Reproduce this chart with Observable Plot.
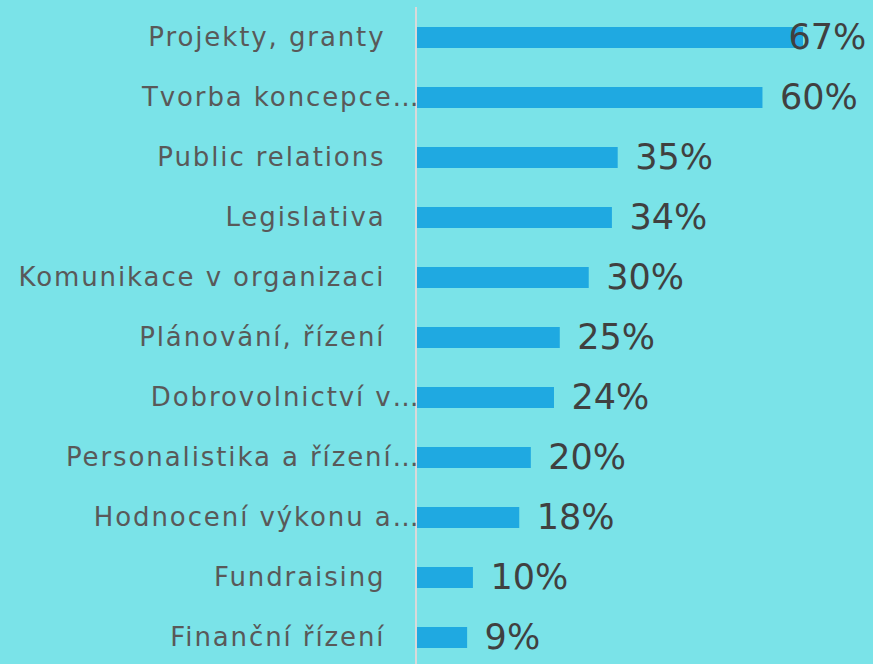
<!DOCTYPE html>
<html>
<head>
<meta charset="utf-8">
<script src="https://cdn.jsdelivr.net/npm/d3@7"></script>
<script src="https://cdn.jsdelivr.net/npm/@observablehq/plot@0.6"></script>
<style>
  html, body { margin: 0; padding: 0; background: #7AE3E8; }
  #chart svg { display: block; background: #7AE3E8; }
  .cat text { letter-spacing: 1.9px; }
</style>
</head>
<body>
<div id="chart"></div>
<script>
const categories = [
  "Projekty, granty",
  "Tvorba koncepce…",
  "Public relations",
  "Legislativa",
  "Komunikace v organizaci",
  "Plánování, řízení",
  "Dobrovolnictví v…",
  "Personalistika a řízení…",
  "Hodnocení výkonu a…",
  "Fundraising",
  "Finanční řízení"
];
const values = [67, 60, 35, 34, 30, 25, 24, 20, 18, 10, 9];
const valueLabels = ["67%", "60%", "35%", "34%", "30%", "25%", "24%", "20%", "18%", "10%", "9%"];

const data = categories.map((c, i) => ({category: c, value: values[i], label: valueLabels[i]}));
const truncated = d => d.category.endsWith("…");
const fits = d => d.value < 62;

const labelFont = {fontFamily: "DejaVu Sans", fontSize: 26, fill: "#595959", className: "cat"};
const valueFont = {fontFamily: "DejaVu Sans", fontSize: 35, fill: "#404040"};

const chart = Plot.plot({
  width: 873,
  height: 664,
  marginTop: 7,
  marginBottom: 0,
  marginLeft: 415,
  marginRight: 0,
  style: {background: "#7AE3E8", overflow: "visible"},
  x: {domain: [0, 67], range: [415, 803], axis: null},
  y: {domain: categories, range: [7.5, 667.5], paddingInner: 0.65, paddingOuter: 0.325, axis: null},
  marks: [
    Plot.barX(data, {y: "category", x: "value", fill: "#1FA9E1"}),
    Plot.ruleX([0], {stroke: "#D9D9D9", strokeWidth: 2, dx: 0.5}),
    Plot.text(data.filter(d => !truncated(d)), {y: "category", x: 0, text: "category", textAnchor: "end", dx: -30, ...labelFont}),
    Plot.text(data.filter(truncated), {y: "category", x: 0, text: "category", textAnchor: "end", dx: 5, ...labelFont}),
    Plot.text(data.filter(fits), {y: "category", x: "value", text: "label", textAnchor: "start", dx: 17, ...valueFont}),
    Plot.text(data.filter(d => !fits(d)), {y: "category", x: "value", text: "label", textAnchor: "start", dx: -15, ...valueFont})
  ]
});
document.getElementById("chart").appendChild(chart);
</script>
</body>
</html>
